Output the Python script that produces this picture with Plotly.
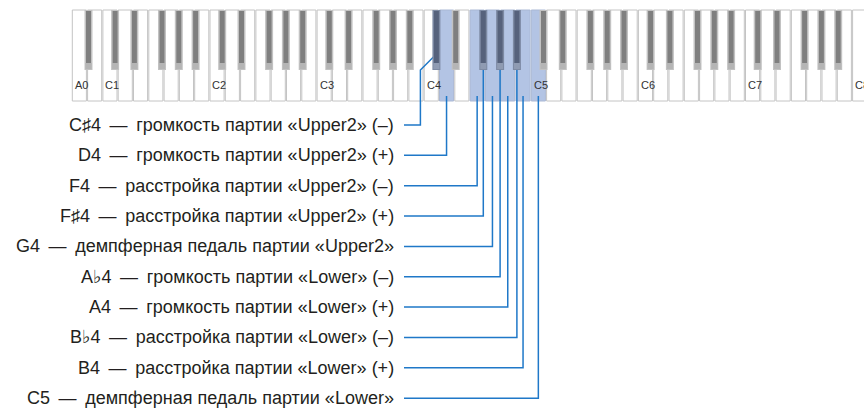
import plotly.graph_objects as go

# 88-key keyboard, semitone 0 = A0
n_keys = 88
octave_labels = ["A0", "C1", "C2", "C3", "C4", "C5", "C6", "C7", "C8"]

# assigned keys (semitone index from A0) and their functions
key_ids = [40, 41, 44, 45, 46, 47, 48, 49, 50, 51]
notes = ["C♯4", "D4", "F4", "F♯4", "G4", "A♭4", "A4", "B♭4", "B4", "C5"]
descs = [
    "громкость партии «Upper2» (–)",
    "громкость партии «Upper2» (+)",
    "расстройка партии «Upper2» (–)",
    "расстройка партии «Upper2» (+)",
    "демпферная педаль партии «Upper2»",
    "громкость партии «Lower» (–)",
    "громкость партии «Lower» (+)",
    "расстройка партии «Lower» (–)",
    "расстройка партии «Lower» (+)",
    "демпферная педаль партии «Lower»",
]

X0, WW = 71.7, 15.3
TOP, WBOT, BBOT, BW = 10, 101, 70, 8
black_off = {1: -2.5, 3: 1.5, 6: -1.5, 8: 0.0, 10: 1.5}
LINE = "#1f78c8"
FONT = "Liberation Sans, Arial, DejaVu Sans"

# key geometry
keys = []
wi = 0
for s in range(n_keys):
    pc = (s + 9) % 12
    if pc in black_off:
        cx = X0 + wi * WW + black_off[pc]
        keys.append(dict(s=s, black=True, cx=cx, x0=cx - BW / 2, x1=cx + BW / 2))
    else:
        x = X0 + wi * WW
        keys.append(dict(s=s, black=False, cx=x + WW / 2, x0=x, x1=x + WW, pc=pc))
        wi += 1

hl = set(key_ids)
shapes = []
annotations = []
label_i = 0
for k in keys:
    if k["black"]:
        continue
    fill = "#b3c4e4" if k["s"] in hl else "white"
    edge = "#aab8d4" if k["s"] in hl else "#c4c4c4"
    shapes.append(dict(type="rect", xref="x", yref="y", x0=k["x0"] + 0.6, x1=k["x1"] - 0.6,
                       y0=TOP, y1=WBOT, fillcolor=fill, line=dict(color=edge, width=1), layer="below"))
    if k["pc"] == 0 or k["s"] == 0:
        annotations.append(dict(x=k["x0"] + 1, y=WBOT - 16, xref="x", yref="y",
                                text=octave_labels[label_i], showarrow=False,
                                xanchor="left", yanchor="middle",
                                font=dict(family=FONT, size=11, color="#333333")))
        label_i += 1
for k in keys:
    if not k["black"]:
        continue
    on = k["s"] in hl
    outer = "#7d8aa3" if on else "#c2c2c2"
    inner = "#56627c" if on else "#7f7f7f"
    tip = "#8f9bb2" if on else "#b5b5b5"
    shapes.append(dict(type="rect", xref="x", yref="y", x0=k["x0"], x1=k["x1"], y0=TOP, y1=BBOT,
                       fillcolor=outer, line=dict(width=0)))
    shapes.append(dict(type="rect", xref="x", yref="y", x0=k["x0"] + 1.5, x1=k["x1"] - 1.5,
                       y0=TOP + 1, y1=BBOT - 7, fillcolor=inner, line=dict(width=0)))
    shapes.append(dict(type="rect", xref="x", yref="y", x0=k["x0"] + 1, x1=k["x1"] - 1,
                       y0=BBOT - 7, y1=BBOT - 1, fillcolor=tip, line=dict(width=0)))

fig = go.Figure()

ROW0, STEP = 125, 30.35
TX, LX = 396, 404
for i, (sid, note, desc) in enumerate(zip(key_ids, notes, descs)):
    k = keys[sid]
    y = ROW0 + i * STEP
    if k["black"] and i == 0:
        ex = k["cx"] - 16
        xs, ys = [LX, ex, ex, k["cx"] + 1], [y, y, BBOT, BBOT - 17]
    elif k["black"]:
        xs, ys = [LX, k["cx"], k["cx"]], [y, y, BBOT - 15]
    else:
        xs, ys = [LX, k["cx"], k["cx"]], [y, y, WBOT - 5]
    fig.add_trace(go.Scatter(x=xs, y=ys, mode="lines", line=dict(color=LINE, width=1.5),
                             hoverinfo="skip", showlegend=False))
    annotations.append(dict(x=TX, y=y, xref="x", yref="y",
                            text=f"{note}\u2009 —\u2009 {desc}",
                            showarrow=False, xanchor="right", yanchor="middle",
                            font=dict(family=FONT, size=18, color="#231f20")))

fig.update_layout(
    width=864, height=408,
    margin=dict(l=0, r=0, t=0, b=0),
    paper_bgcolor="white", plot_bgcolor="white",
    xaxis=dict(range=[0, 864], visible=False, fixedrange=True),
    yaxis=dict(range=[408, 0], visible=False, fixedrange=True),
    shapes=shapes, annotations=annotations,
)
fig.write_html("out.html", config={"displayModeBar": False},
               post_script="document.body.style.margin='0';document.body.style.overflow='hidden';")
